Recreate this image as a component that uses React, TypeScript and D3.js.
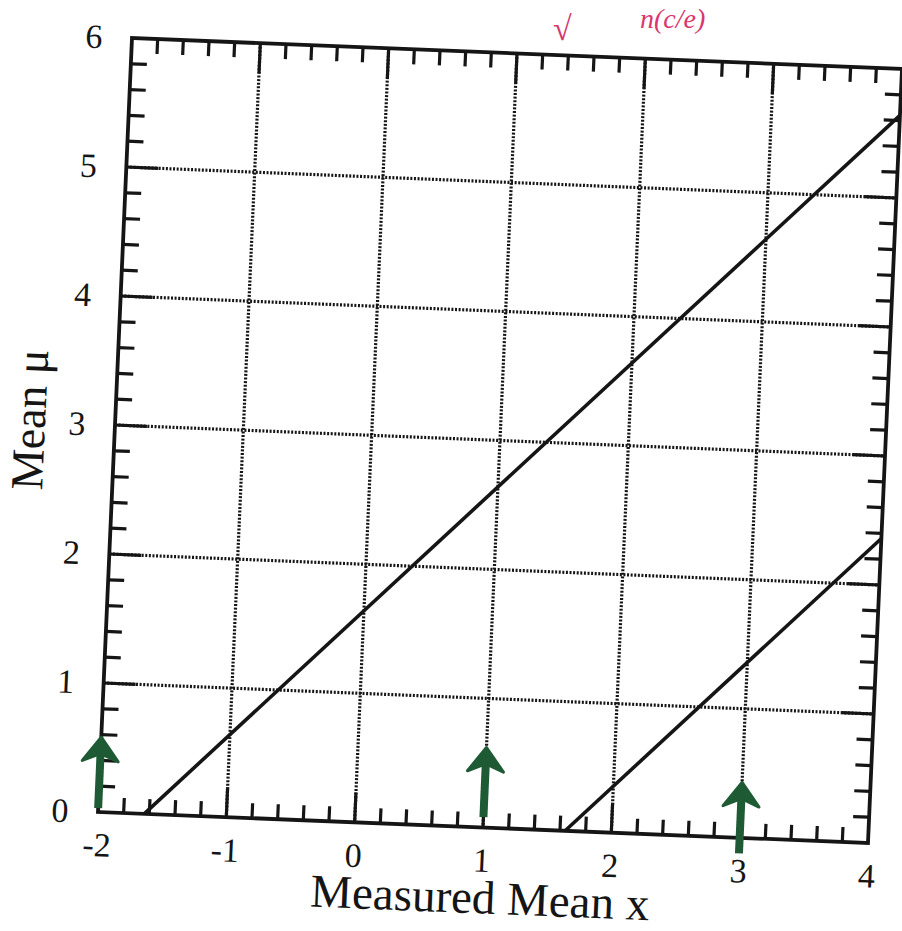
import * as d3 from 'd3';
import React from 'react';

// axis ticks
const xTicks = [-2, -1, 0, 1, 2, 3, 4];
const yTicks = [0, 1, 2, 3, 4, 5, 6];
const xTickLabels = ['-2', '-1', '0', '1', '2', '3', '4'];
const yTickLabels = ['0', '1', '2', '3', '4', '5', '6'];

// confidence belt lines (measured x, mean mu)
const upperBeltX = [-1.64, 4];
const upperBeltMu = [0, 5.64];
const lowerBeltX = [1.64, 4];
const lowerBeltMu = [0, 2.36];

// green arrows (x position, start mu, tip mu)
const arrowX = [-2, 1, 3];
const arrowFrom = [0.03, 0.08, -0.12];
const arrowTo = [0.58, 0.62, 0.43];

const App = () => {
    const W = 771;
    const H = 775;
    const serif = '"Liberation Serif", "Times New Roman", serif';
    const green = '#1e5b34';
    const ink = '#151515';

    const x = d3.scaleLinear().domain([-2, 4]).range([0, W]);
    const y = d3.scaleLinear().domain([0, 6]).range([H, 0]);

    const minorX = d3.range(-2, 4.0001, 0.2).filter(v => Math.abs(v - Math.round(v)) > 0.01);
    const minorY = d3.range(0, 6.0001, 0.2).filter(v => Math.abs(v - Math.round(v)) > 0.01);

    const beltPath = (xs: number[], ms: number[]) =>
        d3.line<number>().x(d => x(d)).y((d, i) => y(ms[i]))(xs);

    // scanned page is slightly skewed, fit with an affine transform
    const transform = 'matrix(0.9987,0.0402,-0.0439,0.9987,132,38)';

    return (
        <svg width={902} height={931} style={{ position: 'absolute', left: 0, top: 0, background: '#fff' }}>
            {/* pink handwritten note at the top of the scan */}
            <text x={553} y={40} fontFamily={serif} fontSize={34} fill="#d9376e" fontStyle="italic">√</text>
            <text x={640} y={28} fontFamily={serif} fontSize={28} fill="#d9376e" fontStyle="italic">n(c/e)</text>
            <g transform={transform}>
                {/* dotted grid */}
                {xTicks.slice(1, -1).map(v => (
                    <line key={'gx' + v} x1={x(v)} x2={x(v)} y1={0} y2={H}
                        stroke={ink} strokeWidth={3.2} strokeDasharray="2 1.6" />
                ))}
                {yTicks.slice(1, -1).map(v => (
                    <line key={'gy' + v} x1={0} x2={W} y1={y(v)} y2={y(v)}
                        stroke={ink} strokeWidth={3.2} strokeDasharray="2 1.6" />
                ))}

                {/* major ticks, all four sides */}
                {xTicks.slice(1, -1).map(v => (
                    <g key={'mx' + v}>
                        <line x1={x(v)} x2={x(v)} y1={0} y2={30} stroke={ink} strokeWidth={3.2} />
                        <line x1={x(v)} x2={x(v)} y1={H} y2={H - 30} stroke={ink} strokeWidth={3.2} />
                    </g>
                ))}
                {yTicks.slice(1, -1).map(v => (
                    <g key={'my' + v}>
                        <line x1={0} x2={32} y1={y(v)} y2={y(v)} stroke={ink} strokeWidth={3.2} />
                        <line x1={W} x2={W - 32} y1={y(v)} y2={y(v)} stroke={ink} strokeWidth={3.2} />
                    </g>
                ))}

                {/* minor ticks */}
                {minorX.map(v => (
                    <g key={'nx' + v}>
                        <line x1={x(v)} x2={x(v)} y1={0} y2={15} stroke={ink} strokeWidth={3.2} />
                        <line x1={x(v)} x2={x(v)} y1={H} y2={H - 15} stroke={ink} strokeWidth={3.2} />
                    </g>
                ))}
                {minorY.map(v => (
                    <g key={'ny' + v}>
                        <line x1={0} x2={16} y1={y(v)} y2={y(v)} stroke={ink} strokeWidth={3.2} />
                        <line x1={W} x2={W - 16} y1={y(v)} y2={y(v)} stroke={ink} strokeWidth={3.2} />
                    </g>
                ))}

                {/* frame */}
                <rect x={0} y={0} width={W} height={H} fill="none" stroke={ink} strokeWidth={3.8} />

                {/* belt lines */}
                <path d={beltPath(upperBeltX, upperBeltMu) || ''} fill="none" stroke={ink} strokeWidth={3.6} />
                <path d={beltPath(lowerBeltX, lowerBeltMu) || ''} fill="none" stroke={ink} strokeWidth={3.6} />

                {/* green arrows */}
                {arrowX.map((v, i) => {
                    const ax = x(v);
                    const y0 = y(arrowFrom[i]);
                    const y1 = y(arrowTo[i]);
                    const head = `M${ax},${y1} L${ax + 18},${y1 + 24} L${ax + 4},${y1 + 18} L${ax - 4},${y1 + 18} L${ax - 18},${y1 + 24} Z`;
                    return (
                        <g key={'ar' + i}>
                            <line x1={ax} x2={ax} y1={y0} y2={y1 + 12} stroke={green} strokeWidth={8} />
                            <path d={head} fill={green} stroke={green} strokeWidth={3} strokeLinejoin="round" />
                        </g>
                    );
                })}

                {/* tick labels */}
                {yTicks.map((v, i) => (
                    <text key={'ly' + v} x={-38} y={y(v)} textAnchor="middle" dominantBaseline="central"
                        fontFamily={serif} fontSize={34} fill={ink}>{yTickLabels[i]}</text>
                ))}
                {xTicks.map((v, i) => (
                    <text key={'lx' + v} x={x(v)} y={H + 33} textAnchor="middle" dominantBaseline="central"
                        fontFamily={serif} fontSize={34} fill={ink}>{xTickLabels[i]}</text>
                ))}

                {/* axis titles */}
                <text x={W / 2} y={H + 86} textAnchor="middle" fontFamily={serif} fontSize={47} fill={ink}>
                    Measured Mean x
                </text>
                <text transform={`translate(-70,${H / 2 - 2}) rotate(-90)`} textAnchor="middle"
                    fontFamily={serif} fontSize={46} fill={ink}>
                    Mean μ
                </text>
            </g>
        </svg>
    );
};

export default App;
